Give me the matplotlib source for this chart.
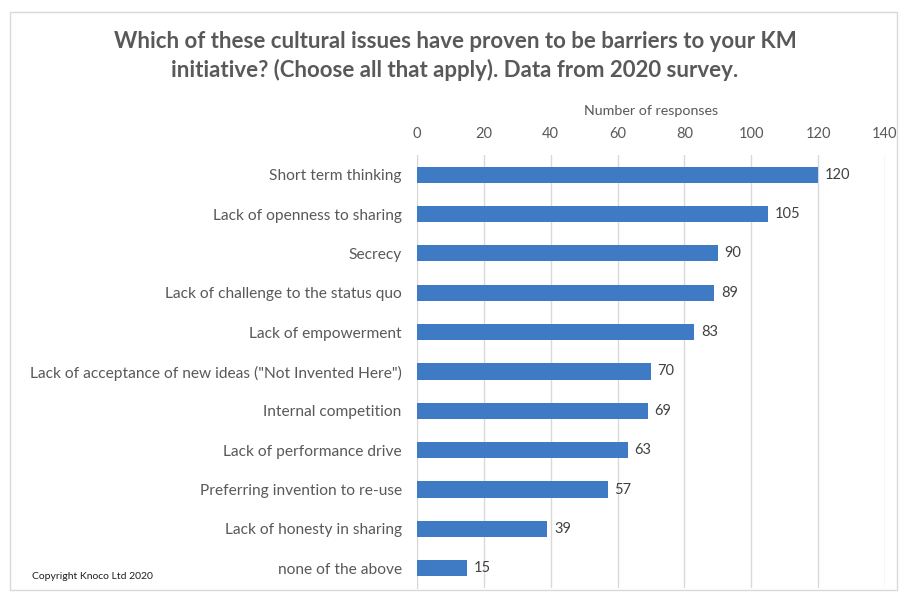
import matplotlib.pyplot as plt
from matplotlib.patches import Rectangle

categories = [
    "Short term thinking",
    "Lack of openness to sharing",
    "Secrecy",
    "Lack of challenge to the status quo",
    "Lack of empowerment",
    "Lack of acceptance of new ideas (\"Not Invented Here\")",
    "Internal competition",
    "Lack of performance drive",
    "Preferring invention to re-use",
    "Lack of honesty in sharing",
    "none of the above",
]
responses = [120, 105, 90, 89, 83, 70, 69, 63, 57, 39, 15]
x_ticks = [0, 20, 40, 60, 80, 100, 120, 140]

plt.rcParams['font.family'] = ['Lato', 'DejaVu Sans']
bar_color = "#3F7BC4"
text_grey = "#595959"

fig = plt.figure(figsize=(9.01, 5.92), dpi=100)
ax = fig.add_axes([0.4628, 0.0068, 0.5194, 0.7314])

ypos = list(range(len(categories)))
bars = ax.barh(ypos, responses, height=0.41, color=bar_color, zorder=3)
ax.set_ylim(len(categories) - 0.5, -0.5)
ax.set_xlim(0, 140)
ax.set_xticks(x_ticks)
ax.set_yticks(ypos)
ax.set_yticklabels(categories)

ax.xaxis.tick_top()
ax.xaxis.set_label_position("top")
ax.set_xlabel("Number of responses", fontsize=10.3, color=text_grey, labelpad=9)
ax.tick_params(axis="x", length=0, labelsize=10.5, labelcolor=text_grey, pad=10)
ax.tick_params(axis="y", length=0, labelsize=11.2, labelcolor=text_grey, pad=11)
ax.grid(axis="x", color="#D9D9D9", linewidth=1, zorder=0)
for s in ["top", "right", "bottom"]:
    ax.spines[s].set_visible(False)
ax.spines["left"].set_color("#D9D9D9")

for b, v in zip(bars, responses):
    ax.text(b.get_width() + 2, b.get_y() + b.get_height() / 2, str(v),
            va="center", ha="left", fontsize=10.5, color="#404040")

fig.text(0.505, 0.905,
         "Which of these cultural issues have proven to be barriers to your KM\n"
         "initiative? (Choose all that apply). Data from 2020 survey.",
         ha="center", va="center", fontsize=16, fontweight="bold",
         color="#595959", linespacing=1.4)

fig.text(0.036, 0.022, "Copyright Knoco Ltd 2020", fontsize=7.5, color="#202020")

fig.patches.append(Rectangle((0.011, 0.003), 0.985, 0.977, transform=fig.transFigure,
                             fill=False, edgecolor="#D9D9D9", linewidth=1))

fig.savefig("out.png", dpi=100)
